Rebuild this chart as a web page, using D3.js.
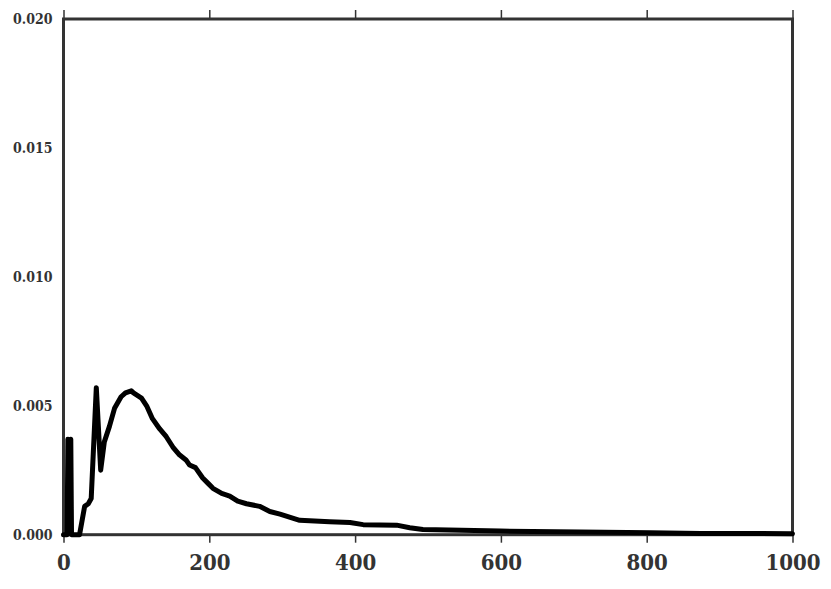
<!DOCTYPE html>
<html>
<head>
<meta charset="utf-8">
<script src="https://cdn.jsdelivr.net/npm/d3@7"></script>
<style>
  body { margin: 0; background: #fff; }
  svg text { font-family: "DejaVu Serif", serif; font-weight: bold; font-stretch: condensed; fill: #333; }
</style>
</head>
<body>
<svg id="chart" width="831" height="589"></svg>
<script>
// values
var xs = [0, 5, 6, 8, 10, 11, 22, 29, 34, 38, 45, 51, 56, 63, 70, 79, 85, 93, 96, 107, 114, 122, 132, 141,
  150, 159, 168, 173, 181, 191, 198, 205, 217, 228, 239, 251, 269, 283, 297, 324, 365, 393, 411, 457,
  475, 493, 599, 709, 805, 874, 1000];
var ys = [0, 0, 0.0037, 0.0036, 0.0037, 0, 0, 0.0011, 0.0012, 0.0014, 0.0057, 0.0025, 0.0036, 0.0042,
  0.0049, 0.00535, 0.0055, 0.00558, 0.0055, 0.0053, 0.0050, 0.0045, 0.0041, 0.0038,
  0.0034, 0.0031, 0.0029, 0.0027, 0.0026, 0.0022, 0.0020, 0.0018, 0.0016, 0.0015, 0.0013, 0.0012,
  0.0011, 0.0009, 0.0008, 0.00056, 0.0005, 0.00047, 0.00039, 0.00037,
  0.00027, 0.0002, 0.00014, 0.0001, 0.00008, 0.00005, 0.00004];
var xTicks = [0, 200, 400, 600, 800, 1000];
var yTicks = [0, 0.005, 0.010, 0.015, 0.020];

var plot_left = 63.5, plot_right = 792.5, plot_top = 19, plot_bottom = 534.7;
var axis_color = "#333";

var svg = d3.select("#chart");
var x = d3.scaleLinear().domain([0, 1000]).range([plot_left, plot_right]);
var y = d3.scaleLinear().domain([0, 0.02]).range([plot_bottom, plot_top]);

// bottom axis with labels
svg.append("g")
  .attr("transform", `translate(0,${plot_bottom})`)
  .call(d3.axisBottom(x).tickValues(xTicks).tickSize(8).tickPadding(12).tickFormat(d3.format("d")))
  .call(g => g.select(".domain").remove())
  .call(g => g.selectAll("line").attr("stroke", axis_color).attr("stroke-width", 1.5))
  .call(g => g.selectAll("text").style("font-size", "22px").attr("fill", axis_color));

// top ticks only
svg.append("g")
  .attr("transform", `translate(0,${plot_top})`)
  .call(d3.axisTop(x).tickValues(xTicks).tickSize(9).tickFormat(""))
  .call(g => g.select(".domain").remove())
  .call(g => g.selectAll("line").attr("stroke", axis_color).attr("stroke-width", 1.5));

// left labels, no tick marks
svg.append("g")
  .attr("transform", `translate(${plot_left},0)`)
  .call(d3.axisLeft(y).tickValues(yTicks).tickSize(0).tickPadding(11).tickFormat(d3.format(".3f")))
  .call(g => g.select(".domain").remove())
  .call(g => g.selectAll("text").style("font-size", "14px").attr("fill", axis_color));

// frame
svg.append("rect")
  .attr("x", plot_left).attr("y", plot_top)
  .attr("width", plot_right - plot_left).attr("height", plot_bottom - plot_top)
  .attr("fill", "none")
  .attr("stroke", axis_color)
  .attr("stroke-width", 3);

var line = d3.line()
  .x((d, i) => x(xs[i]))
  .y((d, i) => y(ys[i]));

svg.append("path")
  .datum(xs)
  .attr("d", line)
  .attr("fill", "none")
  .attr("stroke", "#000")
  .attr("stroke-width", 5)
  .attr("stroke-linejoin", "round")
  .attr("stroke-linecap", "round");
</script>
</body>
</html>
